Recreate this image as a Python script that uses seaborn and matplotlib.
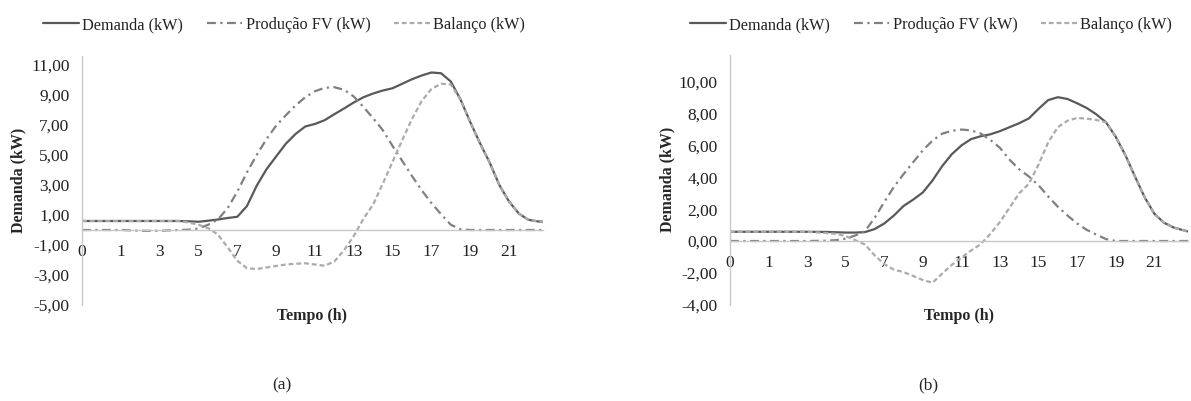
import pandas as pd
import seaborn as sns
import matplotlib.pyplot as plt
from matplotlib.ticker import FixedLocator, FixedFormatter

sns.set_style("white")
plt.rcParams['font.family'] = ['Liberation Serif', 'DejaVu Serif']

# DATA (x = position along the category axis)
pos = [0, 1, 2, 3, 4, 5,
       5.5, 6, 6.5, 7, 7.5, 8, 8.5, 9, 9.5, 10,
       10.5, 11, 11.5, 12, 12.5, 13, 13.5, 14, 14.5, 15,
       15.5, 16, 16.5, 17, 17.5, 18, 18.5, 19, 19.5, 20,
       20.5, 21, 21.5, 22, 22.5, 23, 23.5, 23.75]

demanda_a = [0.6, 0.6, 0.6, 0.6, 0.6, 0.6,
             0.58, 0.55, 0.62, 0.7, 0.8, 0.88, 1.6, 2.95, 4.04, 4.9,
             5.75, 6.4, 6.9, 7.07, 7.32, 7.72, 8.1, 8.5, 8.85, 9.1,
             9.3, 9.45, 9.75, 10.05, 10.3, 10.5, 10.45, 9.9, 8.7, 7.2,
             5.8, 4.5, 3.0, 1.9, 1.1, 0.68, 0.57, 0.56]
producao_a = [0, 0, 0, -0.05, -0.05, 0,
              0.02, 0.1, 0.35, 0.7, 1.45, 2.55, 3.85, 5.0, 6.05, 6.95,
              7.65, 8.3, 8.85, 9.25, 9.48, 9.52, 9.35, 8.9, 8.2, 7.45,
              6.65, 5.6, 4.6, 3.6, 2.65, 1.8, 1.05, 0.35, 0.05, 0,
              0, 0, 0, 0, 0, 0, 0, 0]
balanco_a = [0.6, 0.6, 0.6, 0.6, 0.6, 0.6,
             0.5, 0.35, 0.12, -0.3, -1.15, -2.05, -2.55, -2.6, -2.5, -2.4,
             -2.3, -2.25, -2.22, -2.3, -2.38, -2.1, -1.35, -0.4, 0.75, 1.7,
             3.1, 4.55, 6.0, 7.4, 8.6, 9.4, 9.75, 9.7, 8.7, 7.2,
             5.8, 4.5, 3.0, 1.9, 1.1, 0.68, 0.57, 0.56]

demanda_b = [0.58, 0.58, 0.58, 0.58, 0.58, 0.57,
             0.55, 0.53, 0.53, 0.56, 0.75, 1.1, 1.6, 2.2, 2.6, 3.05,
             3.8, 4.7, 5.45, 6.0, 6.4, 6.58, 6.7, 6.9, 7.15, 7.4,
             7.7, 8.3, 8.85, 9.03, 8.92, 8.65, 8.35, 7.95, 7.45, 6.55,
             5.4, 4.05, 2.75, 1.72, 1.15, 0.85, 0.68, 0.6]
producao_b = [0, 0, 0, 0, 0, 0.02,
              0.05, 0.15, 0.35, 0.62, 1.45, 2.45, 3.4, 4.2, 4.95, 5.7,
              6.3, 6.74, 6.92, 7.0, 6.95, 6.75, 6.35, 5.85, 5.1, 4.5,
              4.05, 3.5, 2.8, 2.15, 1.6, 1.1, 0.7, 0.4, 0.12, 0,
              0, 0, 0, 0, 0, 0, 0, 0]
balanco_b = [0.58, 0.58, 0.58, 0.58, 0.58, 0.5,
             0.45, 0.3, 0.05, -0.22, -0.9, -1.45, -1.8, -1.95, -2.2, -2.45,
             -2.62, -2.05, -1.5, -1.05, -0.6, -0.2, 0.45, 1.2, 2.1, 3.0,
             3.6, 4.8, 6.2, 7.15, 7.55, 7.73, 7.68, 7.6, 7.45, 6.55,
             5.4, 4.05, 2.75, 1.72, 1.15, 0.85, 0.68, 0.6]

xtick_pos = [0, 2, 4, 6, 8, 10, 12, 14, 16, 18, 20, 22]
xtick_labels = ['0', '1', '3', '5', '7', '9', '11', '13', '15', '17', '19', '21']
yticks_a = [-5, -3, -1, 1, 3, 5, 7, 9, 11]
yticks_b = [-4, -2, 0, 2, 4, 6, 8, 10]

series_names = ['Demanda (kW)', 'Produção FV (kW)', 'Balanço (kW)']
colors = ['#595959', '#808080', '#ababab']
styles = ['-', (0, (4, 2, 1, 2)), (0, (2.2, 1.3))]

fig = plt.figure(figsize=(11.91, 4.01), dpi=100)
ax_a = fig.add_axes([82 / 1191, 1 - 305 / 401, 461 / 1191, 249 / 401])
ax_b = fig.add_axes([730 / 1191, 1 - 304.7 / 401, 458 / 1191, 250 / 401])

panels = [
    (ax_a, [demanda_a, producao_a, balanco_a], yticks_a, (-5, 11.6), 284 / 1191),
    (ax_b, [demanda_b, producao_b, balanco_b], yticks_b, (-4, 11.7), 931 / 1191),
]

for ax, values, yticks, ylim, leg_x in panels:
    for name, vals, col, ls in zip(series_names, values, colors, styles):
        df = pd.DataFrame({'pos': pos, 'valor': vals})
        sns.lineplot(data=df, x='pos', y='valor', ax=ax, color=col, linewidth=1.6,
                     linestyle=ls, label=name)

    ax.set_xlim(0, 23.75)
    ax.set_ylim(*ylim)
    for side in ['top', 'right']:
        ax.spines[side].set_visible(False)
    ax.spines['bottom'].set_position(('data', 0))
    ax.spines['bottom'].set_color('#c8c8c8')
    ax.spines['left'].set_color('#c8c8c8')
    ax.spines['bottom'].set_linewidth(1.0)
    ax.spines['left'].set_linewidth(1.0)

    ax.xaxis.set_major_locator(FixedLocator(xtick_pos))
    ax.xaxis.set_major_formatter(FixedFormatter(xtick_labels))
    ax.yaxis.set_major_locator(FixedLocator(yticks))
    ax.yaxis.set_major_formatter(FixedFormatter([f'{v:.2f}'.replace('.', ',') for v in yticks]))
    ax.tick_params(axis='both', length=0, labelsize=12.5, colors='#222222')
    ax.tick_params(axis='x', pad=10)
    ax.tick_params(axis='y', pad=9)

    ax.set_xlabel('Tempo (h)', fontsize=11.5, fontweight='bold')
    ax.set_ylabel('Demanda (kW)', fontsize=11.5, fontweight='bold')
    ax.xaxis.set_label_coords(0.5, -0.045)
    ax.xaxis.label.set_va('center')
    ax.yaxis.set_label_coords(-0.137, 0.5)
    ax.yaxis.label.set_va('center')

    ax.legend(loc='center', bbox_to_anchor=(leg_x, 1 - 25 / 401), bbox_transform=fig.transFigure,
              ncol=3, frameon=False, fontsize=11.7, handlelength=2.2, handletextpad=0.2,
              columnspacing=1.45, labelcolor='#222222')

fig.text(282 / 1191, 1 - 385 / 401, '(a)', ha='center', va='center', fontsize=12.5)
fig.text(928 / 1191, 1 - 385 / 401, '(b)', ha='center', va='center', fontsize=12.5)

plt.savefig('out.png', dpi=100)
